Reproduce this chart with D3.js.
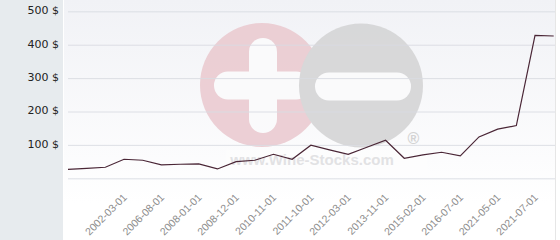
<!DOCTYPE html>
<html>
<head>
<meta charset="utf-8">
<script src="https://cdn.jsdelivr.net/npm/d3@7"></script>
<style>
  html, body { margin: 0; padding: 0; background: #fff; }
  svg { display: block; }
</style>
</head>
<body>
<div id="main"></div>
<script>
// price per point (27 points, evenly spaced)
const prices = [27, 30, 33, 57, 54, 40, 42, 43, 28, 50, 54, 72, 57, 99, 85, 72, 93, 114, 60, 70, 78, 67, 124, 147, 158, 428, 426];
// labels shown under every second point
const tickIndex = [3, 5, 7, 9, 11, 13, 15, 17, 19, 21, 23, 25];
const tickLabels = ['2002-03-01', '2006-08-01', '2008-01-01', '2008-12-01', '2010-11-01', '2011-10-01',
    '2012-03-01', '2013-11-01', '2015-02-01', '2016-07-01', '2021-05-01', '2021-07-01'];
const yTicks = [0, 100, 200, 300, 400, 500];

const WIDTH = 560;
const HEIGHT = 240;
const PANELW = 63;
const PLOTRIGHT = 555;

const svg = d3.select('#main').append('svg').attr('width', WIDTH).attr('height', HEIGHT);

const defs = svg.append('defs');
const grad = defs.append('linearGradient').attr('id', 'bg').attr('x1', 0).attr('y1', 0).attr('x2', 0).attr('y2', 1);
grad.append('stop').attr('offset', '0%').attr('stop-color', '#f1f2f6');
grad.append('stop').attr('offset', '85%').attr('stop-color', '#ffffff');

svg.append('rect').attr('width', WIDTH).attr('height', HEIGHT).attr('fill', '#fff');
svg.append('rect').attr('width', PANELW).attr('height', HEIGHT).attr('fill', '#e7ebee');
svg.append('rect').attr('x', PANELW + 1).attr('width', PLOTRIGHT - PANELW - 1).attr('height', HEIGHT).attr('fill', 'url(#bg)');
svg.append('line').attr('x1', PLOTRIGHT + 0.5).attr('x2', PLOTRIGHT + 0.5).attr('y1', 0).attr('y2', HEIGHT)
    .attr('stroke', '#e6e6e6');

const x = d3.scalePoint().domain(d3.range(prices.length)).range([68, 553.7]);
const y = d3.scaleLinear().domain([0, 500]).range([178.3, 11.3]);

// watermark
const wm = svg.append('g').attr('opacity', 0.9);
wm.append('circle').attr('cx', 262).attr('cy', 85).attr('r', 62).attr('fill', '#ebcbd1');
wm.append('rect').attr('x', 249).attr('y', 38).attr('width', 28).attr('height', 95).attr('rx', 14).attr('fill', '#fbfbfc');
wm.append('rect').attr('x', 214).attr('y', 71.5).attr('width', 96).attr('height', 28).attr('rx', 14).attr('fill', '#fbfbfc');
wm.append('circle').attr('cx', 361).attr('cy', 85.5).attr('r', 62).attr('fill', '#d5d5d6');
wm.append('rect').attr('x', 315).attr('y', 72.5).attr('width', 96).attr('height', 28).attr('rx', 14).attr('fill', '#fbfbfc');
wm.append('text').attr('x', 413.5).attr('y', 144).attr('text-anchor', 'middle')
    .attr('font-family', 'Liberation Sans, Arial, sans-serif').attr('font-weight', 'bold').attr('font-size', 16)
    .attr('fill', '#cfcfcf').text('®');
wm.append('rect').attr('x', 226).attr('y', 150).attr('width', 201).attr('height', 25).attr('fill', '#fff').attr('opacity', 0.5);
wm.append('text').attr('x', 312).attr('y', 165).attr('text-anchor', 'middle')
    .attr('font-family', 'Liberation Sans, Arial, sans-serif').attr('font-weight', 'bold').attr('font-size', 15)
    .attr('fill', '#e0e0e2').text('www.Wine-Stocks.com');

// grid + y labels
const yAxis = d3.axisLeft(y).tickValues(yTicks).tickSize(-(PLOTRIGHT - 68))
    .tickFormat((d) => d === 0 ? '' : `${d} $`);
const gy = svg.append('g').attr('transform', 'translate(68,0)').call(yAxis);
gy.select('.domain').remove();
gy.selectAll('.tick line').attr('stroke', '#d9dce2').attr('stroke-opacity', 0.9);
gy.selectAll('.tick text')
    .attr('x', -9).attr('dy', '0.22em')
    .attr('font-family', 'DejaVu Sans, sans-serif').attr('font-size', 11).attr('fill', '#222');

// x labels
const xAxis = d3.axisBottom(x).tickValues(tickIndex).tickSize(0)
    .tickFormat((d, i) => tickLabels[i]);
const gx = svg.append('g').attr('transform', 'translate(0,182)').call(xAxis);
gx.select('.domain').remove();
gx.selectAll('.tick text')
    .attr('text-anchor', 'end')
    .attr('transform', 'translate(3,16) rotate(-45)')
    .attr('y', 0).attr('dy', 0)
    .attr('font-family', 'Liberation Sans, Arial, sans-serif').attr('font-size', 10.5).attr('fill', '#8c8c8c');

// price line
const line = d3.line().x((d, i) => x(i)).y((d) => y(d));
svg.append('path').datum(prices).attr('d', line)
    .attr('fill', 'none').attr('stroke', '#4a2636').attr('stroke-width', 1.2).attr('stroke-linejoin', 'miter');
</script>
</body>
</html>
